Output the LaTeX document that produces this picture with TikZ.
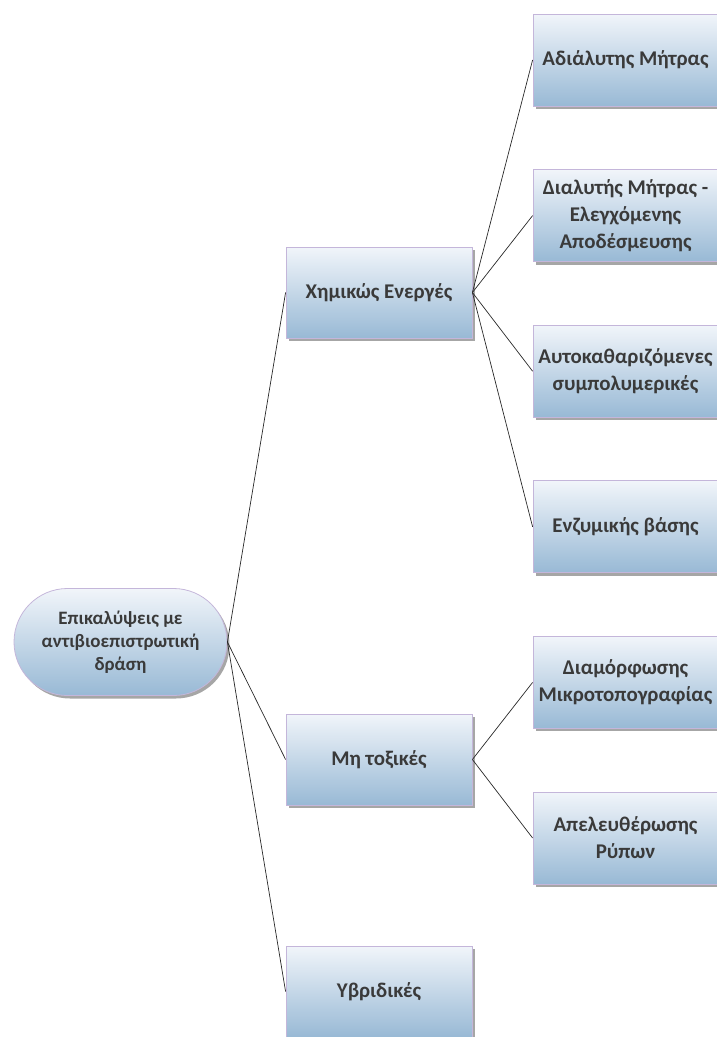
\documentclass[tikz,border=0pt]{standalone}
\usepackage{fontspec}
\setmainfont{Carlito}
\usetikzlibrary{shadows,shapes.misc}
\definecolor{topc}{RGB}{241,245,250}
\definecolor{botc}{RGB}{152,185,213}
\definecolor{edgec}{RGB}{196,182,218}
\definecolor{txtc}{RGB}{58,58,58}
\definecolor{linec}{RGB}{40,40,40}
\tikzset{
  boxbase/.style={draw=edgec, line width=0.8bp, top color=topc, bottom color=botc,
    text=txtc, font=\fontsize{21}{27}\selectfont\bfseries, align=center, inner sep=0pt,
    drop shadow={shadow xshift=2.5bp, shadow yshift=-3bp, fill=black, opacity=0.35}},
  lonebox/.style={boxbase, rectangle, minimum width=186bp, minimum height=91bp},
  ltwobox/.style={boxbase, rectangle, minimum width=185bp, minimum height=92bp},
  rootbox/.style={boxbase, rounded rectangle, minimum width=213bp, minimum height=107bp,
    font=\fontsize{19}{23}\selectfont\bfseries},
  conn/.style={draw=linec, line width=0.7bp}
}
\begin{document}
\begin{tikzpicture}[x=1bp,y=-1bp]
\useasboundingbox (0,0) rectangle (717,1037);
\node[rootbox] (root) at (120.5,642) {Επικαλύψεις με\\αντιβιοεπιστρωτική\\δράση};
\node[lonebox] (chem) at (379,292.5) {Χημικώς Ενεργές};
\node[lonebox] (nontox) at (379,759.5) {Μη τοξικές};
\node[lonebox] (hyb) at (379,991.5) {Υβριδικές};
\node[ltwobox] (a1) at (625.5,60) {Αδιάλυτης Μήτρας};
\node[ltwobox] (a2) at (625.5,215.6) {Διαλυτής Μήτρας -\\Ελεγχόμενης\\Αποδέσμευσης};
\node[ltwobox] (a3) at (625.5,371.2) {Αυτοκαθαριζόμενες\\συμπολυμερικές};
\node[ltwobox] (a4) at (625.5,526.8) {Ενζυμικής βάσης};
\node[ltwobox] (b1) at (625.5,682.4) {Διαμόρφωσης\\Μικροτοπογραφίας};
\node[ltwobox] (b2) at (625.5,838) {Απελευθέρωσης\\Ρύπων};
\draw[conn] (root.east) -- (chem.west);
\draw[conn] (root.east) -- (nontox.west);
\draw[conn] (root.east) -- (hyb.west);
\draw[conn] (chem.east) -- (a1.west);
\draw[conn] (chem.east) -- (a2.west);
\draw[conn] (chem.east) -- (a3.west);
\draw[conn] (chem.east) -- (a4.west);
\draw[conn] (nontox.east) -- (b1.west);
\draw[conn] (nontox.east) -- (b2.west);
\end{tikzpicture}
\end{document}
